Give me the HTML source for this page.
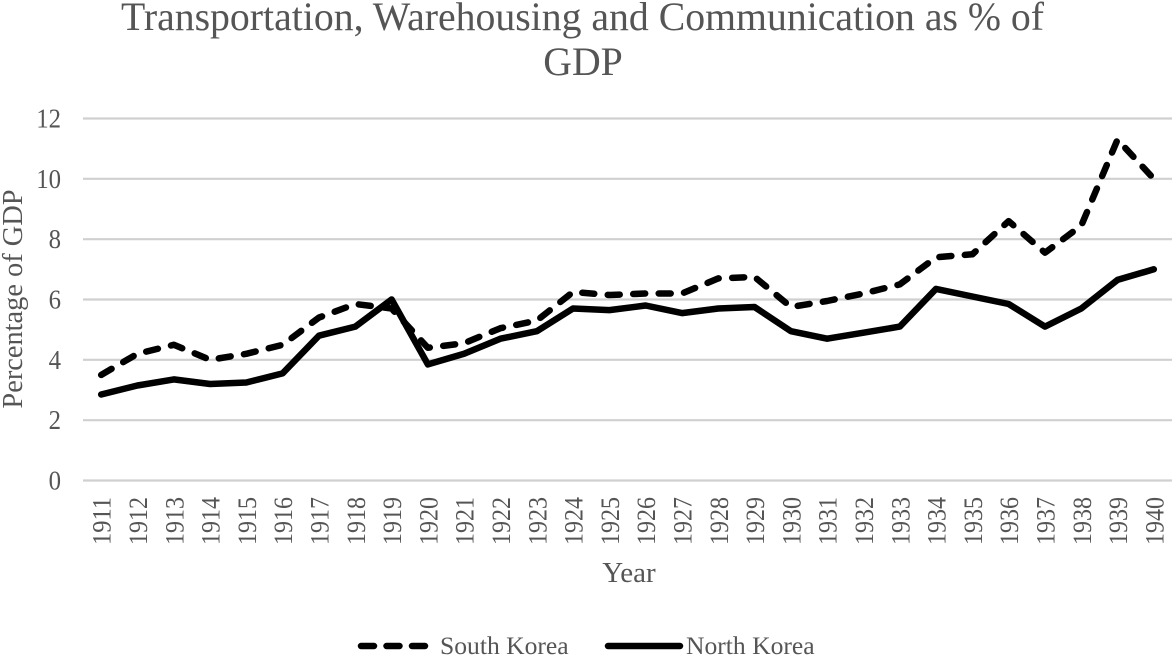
<!DOCTYPE html>
<html>
<head>
<meta charset="utf-8">
<style>
html,body{margin:0;padding:0;background:#fff;width:1175px;height:656px;overflow:hidden}
svg{display:block}
text{font-family:"Liberation Serif",serif;fill:#555}
</style>
</head>
<body>
<svg id="chart" width="1175" height="656" viewBox="0 0 1175 656" xmlns="http://www.w3.org/2000/svg">
<text x="582.5" y="30" text-anchor="middle" font-size="39.75">Transportation, Warehousing and Communication as % of</text>
<text x="583" y="75" text-anchor="middle" font-size="39.75">GDP</text>
<text transform="translate(22,299) rotate(-90)" text-anchor="middle" font-size="28.4">Percentage of GDP</text>
<text x="629" y="582" text-anchor="middle" font-size="29">Year</text>
<g id="grid"></g>
<g id="yticks"></g>
<g id="xticks"></g>
<polyline id="south" fill="none" stroke="#000" stroke-width="6.5" stroke-linecap="round" stroke-linejoin="round" stroke-dasharray="12 13.5"></polyline>
<polyline id="north" fill="none" stroke="#000" stroke-width="6.5" stroke-linecap="round" stroke-linejoin="round"></polyline>
<g>
<line x1="361" y1="646" x2="425" y2="646" stroke="#000" stroke-width="6.5" stroke-linecap="round" stroke-dasharray="13 12.5"></line>
<text x="440" y="654" font-size="25.6">South Korea</text>
<line x1="608" y1="646" x2="680" y2="646" stroke="#000" stroke-width="6.5" stroke-linecap="round"></line>
<text x="686" y="654" font-size="25.6">North Korea</text>
</g>
</svg>
<script>
const years = [1911,1912,1913,1914,1915,1916,1917,1918,1919,1920,1921,1922,1923,1924,1925,1926,1927,1928,1929,1930,1931,1932,1933,1934,1935,1936,1937,1938,1939,1940];
const southKorea = [3.5,4.2,4.5,4.0,4.2,4.5,5.4,5.85,5.7,4.4,4.55,5.05,5.3,6.25,6.15,6.2,6.2,6.7,6.75,5.75,5.95,6.2,6.5,7.4,7.5,8.6,7.55,8.45,11.3,10.0];
const northKorea = [2.85,3.15,3.35,3.2,3.25,3.55,4.8,5.1,6.0,3.85,4.2,4.7,4.95,5.7,5.65,5.8,5.55,5.7,5.75,4.95,4.7,4.9,5.1,6.35,6.1,5.85,5.1,5.7,6.65,7.0];
const yTicks = [0,2,4,6,8,10,12];

const NS = 'http://www.w3.org/2000/svg';
const left = 83, right = 1172, y0 = 480.5, y12 = 118.5;
function xPos(i){ return left + (i + 0.5) * (right - left) / years.length; }
function yPos(v){ return y0 - v * (y0 - y12) / 12; }

const grid = document.getElementById('grid');
const yticks = document.getElementById('yticks');
yTicks.forEach(function(t){
  const l = document.createElementNS(NS, 'line');
  
  
  l.setAttribute('x1', left);
  l.setAttribute('x2', right);
  l.setAttribute('y1', yPos(t));
  l.setAttribute('y2', yPos(t));
  l.setAttribute('stroke', '#d0d0d0');
  l.setAttribute('stroke-width', '2.2');
  grid.appendChild(l);
  const s = document.createElementNS(NS, 'text');
  
  
  s.setAttribute('x', 61);
  s.setAttribute('y', yPos(t) + 9);
  s.setAttribute('text-anchor', 'end');
  s.setAttribute('font-size', '27');
  s.setAttribute('textLength', String(t).length * 12.4);
  s.setAttribute('lengthAdjust', 'spacingAndGlyphs');
  s.textContent = t;
  yticks.appendChild(s);
});

const xticks = document.getElementById('xticks');
years.forEach(function(yr, i){
  const s = document.createElementNS(NS, 'text');
  
  
  s.setAttribute('transform', 'translate(' + (xPos(i) + 9.5) + ',545) rotate(-90)');
  s.setAttribute('font-size', '26.5');
  s.setAttribute('textLength', '48');
  s.setAttribute('lengthAdjust', 'spacingAndGlyphs');
  s.textContent = yr;
  xticks.appendChild(s);
});

function pts(arr){
  return arr.map(function(v, i){ return xPos(i).toFixed(1) + ',' + yPos(v).toFixed(1); }).join(' ');
}
document.getElementById('south').setAttribute('points', pts(southKorea));
document.getElementById('north').setAttribute('points', pts(northKorea));
</script>
</body>
</html>
